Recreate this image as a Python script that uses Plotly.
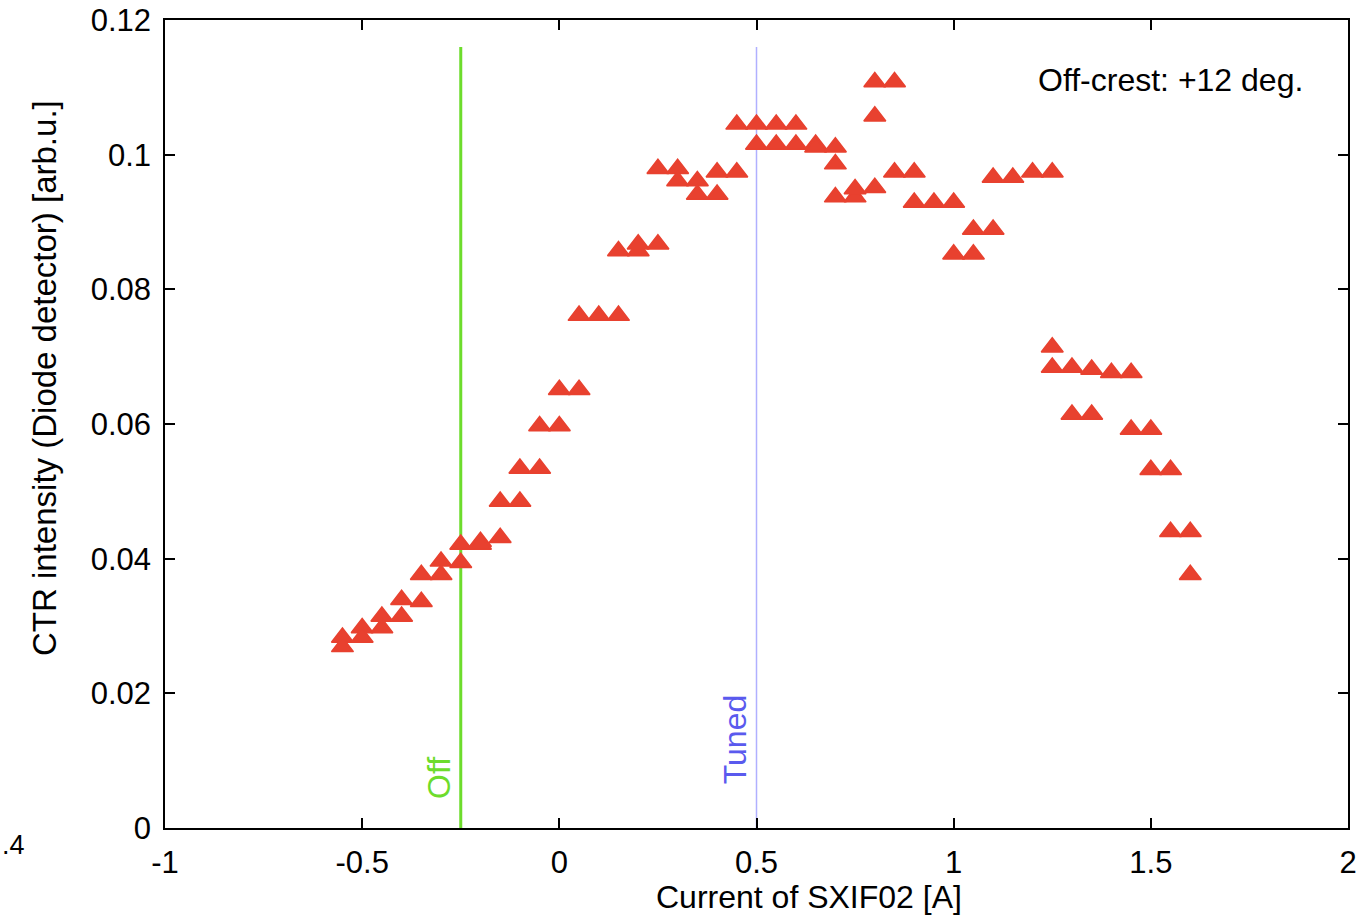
import plotly.graph_objects as go

# CTR intensity vs current
current = [-0.55, -0.55, -0.5, -0.5, -0.45, -0.45, -0.4, -0.4, -0.35, -0.35,
           -0.3, -0.3, -0.25, -0.25, -0.2, -0.2, -0.15, -0.15, -0.1, -0.1,
           -0.05, -0.05, 0.0, 0.0, 0.05, 0.05, 0.1, 0.15, 0.15, 0.2, 0.2,
           0.25, 0.25, 0.3, 0.3, 0.35, 0.35, 0.4, 0.4, 0.45, 0.45,
           0.5, 0.5, 0.55, 0.55, 0.6, 0.6, 0.65, 0.65, 0.7, 0.7, 0.7,
           0.75, 0.75, 0.8, 0.8, 0.8, 0.85, 0.85, 0.9, 0.9, 0.95,
           1.0, 1.0, 1.05, 1.05, 1.1, 1.1, 1.15, 1.2, 1.25, 1.25, 1.25,
           1.3, 1.3, 1.35, 1.35, 1.4, 1.45, 1.45, 1.5, 1.5, 1.55, 1.55, 1.6, 1.6]
intensity = [0.0283, 0.0269, 0.0297, 0.0283, 0.0314, 0.0297, 0.0339, 0.0314, 0.0376, 0.0336,
             0.0396, 0.0376, 0.0421, 0.0394, 0.0425, 0.0421, 0.0431, 0.0485, 0.0485, 0.0534,
             0.0534, 0.0597, 0.0597, 0.0651, 0.0651, 0.0761, 0.0761, 0.0761, 0.0857, 0.0857, 0.0867,
             0.0867, 0.0979, 0.0979, 0.0961, 0.0961, 0.0941, 0.0941, 0.0974, 0.0974, 0.1045,
             0.1045, 0.1015, 0.1045, 0.1015, 0.1045, 0.1015, 0.1015, 0.1011, 0.1011, 0.0986, 0.0937,
             0.0937, 0.0949, 0.0951, 0.1108, 0.1057, 0.1108, 0.0974, 0.0974, 0.0929, 0.0929,
             0.0929, 0.0852, 0.0852, 0.0889, 0.0889, 0.0966, 0.0966, 0.0974, 0.0974, 0.0714, 0.0684,
             0.0684, 0.0614, 0.0614, 0.0681, 0.0676, 0.0676, 0.0592, 0.0592, 0.0532, 0.0532, 0.044, 0.044, 0.0376]

off_current = [-0.25, -0.25]
tuned_current = [0.5, 0.5]
marker_line_y = [0.0, 0.116]

x_ticks = [-1, -0.5, 0, 0.5, 1, 1.5, 2]
x_tick_text = ["-1", "-0.5", "0", "0.5", "1", "1.5", "2"]
y_ticks = [0, 0.02, 0.04, 0.06, 0.08, 0.1, 0.12]
y_tick_text = ["0", "0.02", "0.04", "0.06", "0.08", "0.1", "0.12"]

FONT = "Liberation Sans"
RED = "#e8412f"
GREEN = "#6ddc2c"
BLUE = "#b0b0ff"

fig = go.Figure()
fig.add_trace(go.Scatter(x=off_current, y=marker_line_y, mode="lines",
                         line=dict(color=GREEN, width=3), showlegend=False, hoverinfo="skip"))
fig.add_trace(go.Scatter(x=tuned_current, y=marker_line_y, mode="lines",
                         line=dict(color=BLUE, width=1.5), showlegend=False, hoverinfo="skip"))
fig.add_trace(go.Scatter(x=current, y=intensity, mode="markers",
                         marker=dict(symbol="triangle-up", size=19, color=RED,
                                     line=dict(color=RED, width=1.5)),
                         showlegend=False))

axis_common = dict(showline=True, linecolor="black", linewidth=1.5, mirror="allticks",
                   ticks="inside", ticklen=10, tickwidth=1.5, tickcolor="black",
                   showgrid=False, zeroline=False, automargin=False,
                   tickfont=dict(family=FONT, size=31, color="black"))

fig.update_xaxes(range=[-1, 2], tickvals=x_ticks, ticktext=x_tick_text,
                 ticklabelstandoff=6, **axis_common)
fig.update_yaxes(range=[0, 0.12], tickvals=y_ticks, ticktext=y_tick_text,
                 ticklabelstandoff=6, **axis_common)

fig.add_annotation(x=0.544, y=-0.0854, xref="paper", yref="paper", xanchor="center", yanchor="middle",
                   text="Current of SXIF02 [A]", showarrow=False,
                   font=dict(family=FONT, size=32, color="black"))
fig.add_annotation(x=-0.1014, y=0.557, xref="paper", yref="paper", xanchor="center", yanchor="middle",
                   text="CTR intensity (Diode detector) [arb.u.]", textangle=-90, showarrow=False,
                   font=dict(family=FONT, size=33, color="black"))
fig.add_annotation(x=0.9636, y=0.9257, xref="paper", yref="paper", xanchor="right", yanchor="middle",
                   text="Off-crest: +12 deg.", showarrow=False,
                   font=dict(family=FONT, size=32, color="black"))
fig.add_annotation(x=off_current[0], y=0.0074, xref="x", yref="y", xshift=-22,
                   text="Off", textangle=-90, showarrow=False,
                   font=dict(family=FONT, size=32, color=GREEN))
fig.add_annotation(x=tuned_current[0], y=0.0131, xref="x", yref="y", xshift=-22,
                   text="Tuned", textangle=-90, showarrow=False,
                   font=dict(family=FONT, size=32, color="#5a5aee"))
fig.add_annotation(x=0.0, y=-0.021, xref="paper", yref="paper", xshift=-165, xanchor="left",
                   yanchor="middle", text=".4", showarrow=False,
                   font=dict(family=FONT, size=27, color="black"))

fig.update_layout(width=1361, height=916, paper_bgcolor="white", plot_bgcolor="white",
                  margin=dict(l=165, r=13, t=20, b=88), showlegend=False)

fig.write_html("out.html")
